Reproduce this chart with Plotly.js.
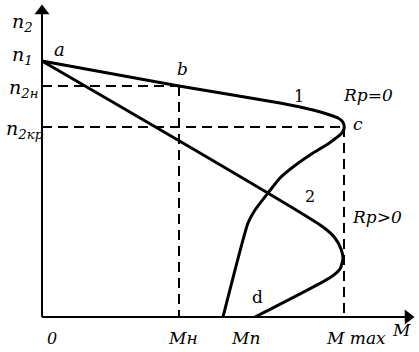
<!DOCTYPE html>
<html><head><meta charset="utf-8">
<script src="https://cdn.plot.ly/plotly-3.0.1.min.js"></script>
<style>html,body{margin:0;padding:0;background:#fff}</style>
</head><body><div id="chart" style="width:419px;height:352px"></div>
<script>
// Characteristic 1 (Rp = 0): torque M vs speed n2
const curve1M = [0, 137, 238, 271, 288, 296, 300, 302, 302, 299, 294, 286, 271, 251, 238, 226, 213, 206, 181];
const curve1N = [256, 231, 214, 207, 202, 199, 196, 192, 188, 183, 179, 173, 164, 150, 139, 124, 107, 94, 0];
// Characteristic 2 (Rp > 0)
const curve2M = [0, 281, 293, 299, 301, 298, 289, 213];
const curve2N = [256, 90, 79, 68, 59, 48, 40, 0];
// Reference levels
const nLevels = {n1: 256, n2n: 231, n2kr: 190};
const mLevels = {Mn: 137, Mp: 181, Mmax: 302};
const axisMax = {M: 372, n: 312};

const black = '#000';
const dashStyle = {color: black, width: 2, dash: '10px,6px'};
const traces = [
  {x: [0, mLevels.Mn], y: [nLevels.n2n, nLevels.n2n], mode: 'lines', line: dashStyle},
  {x: [mLevels.Mn, mLevels.Mn], y: [nLevels.n2n, 0], mode: 'lines', line: dashStyle},
  {x: [0, mLevels.Mmax], y: [nLevels.n2kr, nLevels.n2kr], mode: 'lines', line: dashStyle},
  {x: [mLevels.Mmax, mLevels.Mmax], y: [nLevels.n2kr, 0], mode: 'lines', line: dashStyle},
  {x: [0, 0], y: [0, axisMax.n - 8], mode: 'lines', line: {color: black, width: 2}},
  {x: [0, axisMax.M - 8], y: [0, 0], mode: 'lines', line: {color: black, width: 2}},
  {x: [0], y: [axisMax.n - 6], mode: 'markers', marker: {symbol: 'triangle-up', size: 13, color: black}},
  {x: [axisMax.M - 6], y: [0], mode: 'markers', marker: {symbol: 'triangle-right', size: 13, color: black}},
  {x: curve1M, y: curve1N, mode: 'lines', line: {color: black, width: 3, shape: 'spline', smoothing: 0.5}},
  {x: curve2M, y: curve2N, mode: 'lines', line: {color: black, width: 3, shape: 'spline', smoothing: 0.6}}
];

const serif = 'DejaVu Serif, serif';
function lab(text, px, py, size, opts) {
  return Object.assign({x: px - 42, y: 317 - py, xref: 'x', yref: 'y', text: text, showarrow: false,
    xanchor: 'center', yanchor: 'middle', font: {family: serif, size: size, color: black}}, opts || {});
}
const annotations = [
  lab('<i>n</i><sub><i>2</i></sub>', 22, 22, 19),
  lab('<i>n</i><sub><i>1</i></sub>', 22, 55, 19),
  lab('<i>n</i><sub><i>2н</i></sub>', 23, 88, 19),
  lab('<i>n</i><sub><i>2кр</i></sub>', 25, 129, 19),
  lab('<i>a</i>', 59, 49, 18),
  lab('<i>b</i>', 182, 69, 17),
  lab('1', 299, 96, 16),
  lab('<i>Rp=0</i>', 368, 95, 17),
  lab('<i>c</i>', 358, 124, 17),
  lab('2', 310, 196, 16),
  lab('<i>Rp&gt;0</i>', 377, 217, 17),
  lab('d', 257, 297, 17),
  lab('<i>0</i>', 52, 338, 16),
  lab('<i>Mн</i>', 183, 338, 17),
  lab('<i>Mп</i>', 245, 338, 17),
  lab('<i>M max</i>', 356, 338, 17),
  lab('<i>M</i>', 401, 330, 17)
];

Plotly.newPlot('chart', traces, {
  width: 419, height: 352,
  margin: {l: 0, r: 0, t: 0, b: 0, pad: 0},
  paper_bgcolor: '#fff', plot_bgcolor: '#fff',
  showlegend: false,
  xaxis: {range: [-42, 377], visible: false, fixedrange: true},
  yaxis: {range: [-35, 317], visible: false, fixedrange: true},
  annotations: annotations
}, {staticPlot: true, displayModeBar: false});
</script></body></html>
